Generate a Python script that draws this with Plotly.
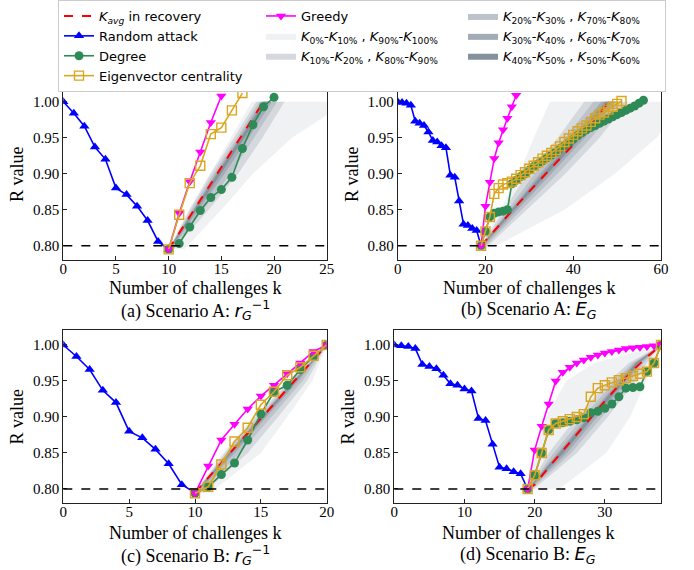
import plotly.graph_objects as go

# ---------------- data ----------------
# Random attack (removal phase)
k_rand_r = list(range(0, 11))
R_rand_r = [1.000, 0.984, 0.966, 0.937, 0.920, 0.880, 0.871, 0.855, 0.835, 0.806, 0.795]
k_rand_e = list(range(0, 20))
R_rand_e = [1.000, 0.999, 0.998, 0.995, 0.973, 0.970, 0.967, 0.958, 0.946, 0.944,
            0.939, 0.936, 0.898, 0.895, 0.862, 0.830, 0.828, 0.824, 0.821, 0.800]

# (a) Scenario A, r_G^-1
a_k_greedy = list(range(10, 16))
a_R_greedy = [0.795, 0.845, 0.889, 0.930, 0.971, 1.008]
a_k_eig = list(range(10, 18))
a_R_eig = [0.795, 0.843, 0.887, 0.911, 0.955, 0.964, 0.988, 1.012]
a_k_deg = list(range(10, 21))
a_R_deg = [0.795, 0.803, 0.826, 0.849, 0.867, 0.878, 0.895, 0.935, 0.968, 0.993, 1.006]
a_k_avg = list(range(10, 20))
a_R_avg = [0.795, 0.818, 0.840, 0.863, 0.886, 0.909, 0.932, 0.954, 0.977, 1.000]
a_levels = [0.795, 0.85, 0.90, 0.95, 1.00]
a_band_left = [[10.0, 11.9, 13.9, 15.9, 17.9],
               [10.0, 12.0, 14.0, 16.2, 18.3],
               [10.0, 12.15, 14.25, 16.5, 18.6],
               [10.0, 12.3, 14.45, 16.7, 18.85],
               [10.0, 12.4, 14.6, 16.85, 19.05]]
a_band_right = [[11.5, 15.0, 18.0, 21.7, 27.0],
                [10.5, 13.8, 16.6, 18.9, 21.0],
                [10.3, 13.3, 15.9, 18.1, 20.3],
                [10.2, 12.9, 15.3, 17.6, 19.8],
                [10.1, 12.65, 14.95, 17.2, 19.4]]

# (b) Scenario A, E_G
b_k_greedy = list(range(19, 28))
b_R_greedy = [0.800, 0.855, 0.888, 0.921, 0.943, 0.961, 0.977, 0.993, 1.009]
b_k_eig = list(range(19, 52))
b_R_eig = [0.800, 0.820, 0.840, 0.872, 0.880, 0.885, 0.887, 0.889, 0.893, 0.898,
           0.902, 0.907, 0.911, 0.916, 0.921, 0.925, 0.929, 0.933, 0.938, 0.944,
           0.949, 0.954, 0.959, 0.963, 0.967, 0.972, 0.977, 0.982, 0.985, 0.989,
           0.993, 0.997, 1.001]
b_k_deg = list(range(19, 57))
b_R_deg = [0.800, 0.820, 0.840, 0.845, 0.847, 0.848, 0.850, 0.886, 0.891, 0.896,
           0.900, 0.905, 0.910, 0.914, 0.918, 0.922, 0.926, 0.930, 0.935, 0.939,
           0.943, 0.948, 0.953, 0.957, 0.961, 0.964, 0.967, 0.970, 0.973, 0.976,
           0.979, 0.982, 0.985, 0.988, 0.991, 0.994, 0.998, 1.002]
b_k_avg = [19, 22, 25, 28, 31, 34, 37, 40, 43, 46, 48]
b_R_avg = [0.800, 0.821, 0.841, 0.862, 0.882, 0.902, 0.921, 0.940, 0.961, 0.984, 1.000]
b_levels = [0.80, 0.85, 0.90, 0.95, 1.00]
b_band_left = [[19, 23.3, 27.7, 31.0, 34.7],
               [19, 24.3, 29.5, 36.5, 42.5],
               [19, 25.0, 31.2, 38.2, 44.6],
               [19, 25.6, 32.4, 39.6, 46.4],
               [19, 25.9, 33.1, 40.4, 47.3]]
b_band_right = [[22.5, 38.0, 49.5, 59.0, 66.0],
                [20.6, 29.5, 38.2, 46.0, 52.5],
                [20.1, 28.3, 36.4, 44.1, 50.8],
                [19.6, 27.3, 35.0, 42.6, 49.6],
                [19.3, 26.6, 34.1, 41.7, 48.7]]

# (c) Scenario B, r_G^-1
c_k_greedy = list(range(10, 21))
c_R_greedy = [0.794, 0.832, 0.868, 0.890, 0.911, 0.929, 0.944, 0.960, 0.975, 0.991, 1.000]
c_k_eig = list(range(10, 21))
c_R_eig = [0.794, 0.803, 0.834, 0.866, 0.885, 0.917, 0.935, 0.958, 0.969, 0.985, 1.000]
c_k_deg = list(range(10, 21))
c_R_deg = [0.794, 0.803, 0.820, 0.836, 0.868, 0.904, 0.935, 0.944, 0.966, 0.984, 1.000]
c_k_avg = list(range(10, 21))
c_R_avg = [0.795, 0.815, 0.836, 0.857, 0.877, 0.898, 0.918, 0.939, 0.959, 0.980, 1.000]
c_levels = [0.795, 0.85, 0.90, 0.95, 1.00]
c_band_left = [[10, 12.1, 14.4, 17.0, 20],
               [10, 12.25, 14.6, 17.2, 20],
               [10, 12.4, 14.8, 17.35, 20],
               [10, 12.5, 14.95, 17.45, 20],
               [10, 12.6, 15.0, 17.5, 20]]
c_band_right = [[11.2, 15.0, 17.0, 18.9, 20],
                [10.7, 14.0, 16.3, 18.5, 20],
                [10.4, 13.4, 15.8, 18.15, 20],
                [10.2, 13.0, 15.45, 17.85, 20],
                [10.1, 12.8, 15.25, 17.7, 20]]

# (d) Scenario B, E_G
d_k_greedy = list(range(19, 39))
d_R_greedy = [0.800, 0.854, 0.887, 0.918, 0.950, 0.962, 0.969, 0.975, 0.979, 0.983,
              0.986, 0.989, 0.991, 0.993, 0.995, 0.996, 0.997, 0.998, 0.999, 1.001]
d_k_eig = list(range(19, 39))
d_R_eig = [0.800, 0.819, 0.850, 0.882, 0.891, 0.894, 0.897, 0.900, 0.904, 0.928,
           0.940, 0.944, 0.948, 0.951, 0.954, 0.957, 0.960, 0.963, 0.975, 1.000]
d_k_deg = list(range(19, 39))
d_R_deg = [0.800, 0.819, 0.850, 0.882, 0.891, 0.892, 0.894, 0.896, 0.899, 0.906,
           0.908, 0.912, 0.918, 0.928, 0.940, 0.941, 0.942, 0.963, 0.975, 1.000]
d_k_avg = [19, 20, 22, 24, 26, 28, 30, 32, 34, 36, 38]
d_R_avg = [0.800, 0.806, 0.830, 0.853, 0.877, 0.899, 0.922, 0.944, 0.965, 0.983, 1.000]
d_levels = [0.80, 0.85, 0.90, 0.95, 0.975, 1.00]
d_band_left = [[19, 20.2, 21.6, 24.5, 28.5, 38],
               [19, 22.0, 26.0, 30.6, 33.4, 38],
               [19, 22.7, 26.9, 31.4, 33.9, 38],
               [19, 23.2, 27.5, 32.0, 34.2, 38],
               [19, 23.5, 27.8, 32.3, 34.4, 38]]
d_band_right = [[23.5, 30.2, 33.6, 35.9, 37.0, 38],
                [19.9, 26.0, 30.4, 34.4, 36.0, 38],
                [19.6, 25.2, 29.6, 33.7, 35.5, 38],
                [19.35, 24.6, 28.9, 33.2, 35.1, 38],
                [19.15, 24.1, 28.4, 32.9, 34.85, 38]]

band_names = [
    "<i>K</i><sub>0%</sub>-<i>K</i><sub>10%</sub> , <i>K</i><sub>90%</sub>-<i>K</i><sub>100%</sub>",
    "<i>K</i><sub>10%</sub>-<i>K</i><sub>20%</sub> , <i>K</i><sub>80%</sub>-<i>K</i><sub>90%</sub>",
    "<i>K</i><sub>20%</sub>-<i>K</i><sub>30%</sub> , <i>K</i><sub>70%</sub>-<i>K</i><sub>80%</sub>",
    "<i>K</i><sub>30%</sub>-<i>K</i><sub>40%</sub> , <i>K</i><sub>60%</sub>-<i>K</i><sub>70%</sub>",
    "<i>K</i><sub>40%</sub>-<i>K</i><sub>50%</sub> , <i>K</i><sub>50%</sub>-<i>K</i><sub>60%</sub>",
]
band_colors = ["#eff1f3", "#d5d9de", "#bdc3ca", "#a3abb4", "#86919e"]
band_ranks = [5, 8, 3, 6, 9]

captions = [
    "(a) Scenario A: <span style='font-family:DejaVu Sans'><i>r</i><sub><i>G</i></sub><sup>−1</sup></span>",
    "(b) Scenario A: <span style='font-family:DejaVu Sans'><i>E</i><sub><i>G</i></sub></span>",
    "(c) Scenario B: <span style='font-family:DejaVu Sans'><i>r</i><sub><i>G</i></sub><sup>−1</sup></span>",
    "(d) Scenario B: <span style='font-family:DejaVu Sans'><i>E</i><sub><i>G</i></sub></span>",
]
x_title = "Number of challenges k"
y_title = "R value"

W, H = 694, 570
panels = [
    dict(rand=(k_rand_r, R_rand_r), greedy=(a_k_greedy, a_R_greedy), eig=(a_k_eig, a_R_eig),
         deg=(a_k_deg, a_R_deg), avg=(a_k_avg, a_R_avg), levels=a_levels,
         left=a_band_left, right=a_band_right, xr=[0, 25], xt=[0, 5, 10, 15, 20, 25],
         px=(63.3, 326.7), py=(88.3, 260.0), yr=[0.7802, 1.0186]),
    dict(rand=(k_rand_e, R_rand_e), greedy=(b_k_greedy, b_R_greedy), eig=(b_k_eig, b_R_eig),
         deg=(b_k_deg, b_R_deg), avg=(b_k_avg, b_R_avg), levels=b_levels,
         left=b_band_left, right=b_band_right, xr=[0, 60], xt=[0, 20, 40, 60],
         px=(397.7, 661.0), py=(88.3, 260.0), yr=[0.7802, 1.0186]),
    dict(rand=(k_rand_r, R_rand_r), greedy=(c_k_greedy, c_R_greedy), eig=(c_k_eig, c_R_eig),
         deg=(c_k_deg, c_R_deg), avg=(c_k_avg, c_R_avg), levels=c_levels,
         left=c_band_left, right=c_band_right, xr=[0, 20], xt=[0, 5, 10, 15, 20],
         px=(63.3, 326.7), py=(330.0, 503.3), yr=[0.7801, 1.0208]),
    dict(rand=(k_rand_e, R_rand_e), greedy=(d_k_greedy, d_R_greedy), eig=(d_k_eig, d_R_eig),
         deg=(d_k_deg, d_R_deg), avg=(d_k_avg, d_R_avg), levels=d_levels,
         left=d_band_left, right=d_band_right, xr=[0, 38], xt=[0, 10, 20, 30],
         px=(394.3, 661.0), py=(330.0, 503.3), yr=[0.7801, 1.0208]),
]

SERIF = "Liberation Serif"
fig = go.Figure()
layout = {}
shapes = []
annotations = []

for i, p in enumerate(panels):
    n = "" if i == 0 else str(i + 1)
    xa, ya = "x" + n, "y" + n
    first = i == 0
    # percentile bands
    for b in range(5):
        lv = p["levels"]
        fig.add_trace(go.Scatter(
            x=p["left"][b] + p["right"][b][::-1], y=lv + lv[::-1],
            fill="toself", fillcolor=band_colors[b], mode="lines", line=dict(width=0),
            name=band_names[b], legendrank=band_ranks[b], showlegend=first,
            xaxis=xa, yaxis=ya, hoverinfo="skip"))
    # K_avg
    fig.add_trace(go.Scatter(x=p["avg"][0], y=p["avg"][1], mode="lines",
                             line=dict(color="#ff0000", width=2, dash="dash"),
                             name="<i>K</i><sub><i>avg</i></sub> in recovery", legendrank=1,
                             showlegend=first, xaxis=xa, yaxis=ya))
    fig.add_trace(go.Scatter(x=p["rand"][0], y=p["rand"][1], mode="lines+markers",
                             line=dict(color="#0000ff", width=1.6),
                             marker=dict(symbol="triangle-up", size=9, color="#0000ff"),
                             name="Random attack", legendrank=4, showlegend=first,
                             xaxis=xa, yaxis=ya))
    fig.add_trace(go.Scatter(x=p["deg"][0], y=p["deg"][1], mode="lines+markers",
                             line=dict(color="#2e8b57", width=1.6),
                             marker=dict(symbol="circle", size=9, color="#2e8b57"),
                             name="Degree", legendrank=7, showlegend=first,
                             xaxis=xa, yaxis=ya))
    fig.add_trace(go.Scatter(x=p["greedy"][0], y=p["greedy"][1], mode="lines+markers",
                             line=dict(color="#ff00ff", width=1.6),
                             marker=dict(symbol="triangle-down", size=9, color="#ff00ff"),
                             name="Greedy", legendrank=2, showlegend=first,
                             xaxis=xa, yaxis=ya))
    fig.add_trace(go.Scatter(x=p["eig"][0], y=p["eig"][1], mode="lines+markers",
                             line=dict(color="#daa520", width=1.6),
                             marker=dict(symbol="square-open", size=9, color="#daa520",
                                         line=dict(width=1.4, color="#daa520")),
                             name="Eigenvector centrality", legendrank=10, showlegend=first,
                             xaxis=xa, yaxis=ya))
    x0, x1 = p["px"]
    t0, t1 = p["py"]
    layout["xaxis" + n] = dict(
        domain=[x0 / W, x1 / W], range=p["xr"], anchor=ya, tickvals=p["xt"],
        ticks="inside", ticklen=4, tickwidth=1, tickcolor="#222",
        showline=True, mirror=True, linecolor="#222", linewidth=1,
        showgrid=False, zeroline=False, automargin=False, ticklabelstandoff=-5,
        tickfont=dict(family=SERIF, size=15, color="black"))
    layout["yaxis" + n] = dict(
        domain=[1 - t1 / H, 1 - t0 / H], range=p["yr"], anchor=xa,
        tickvals=[0.80, 0.85, 0.90, 0.95, 1.00], tickformat=".2f",
        ticks="inside", ticklen=4, tickwidth=1, tickcolor="#222",
        showline=True, mirror=True, linecolor="#222", linewidth=1,
        showgrid=False, zeroline=False, automargin=False,
        tickfont=dict(family=SERIF, size=15, color="black"),
        title=dict(text=y_title, standoff=4,
                   font=dict(family=SERIF, size=18, color="black")))
    shapes.append(dict(type="line", xref=xa + " domain", yref=ya, x0=0, x1=1, y0=0.8, y1=0.8,
                       line=dict(color="black", width=1.5, dash="dash"), layer="above"))
    title_y = 288 if i < 2 else 533
    cap_y = 310 if i < 2 else 555
    annotations.append(dict(text=x_title, xref="paper", yref="paper",
                            x=(x0 + x1) / 2 / W, y=1 - title_y / H, xanchor="center",
                            yanchor="middle", showarrow=False,
                            font=dict(family=SERIF, size=18, color="black")))
    annotations.append(dict(text=captions[i], xref="paper", yref="paper",
                            x=(x0 + x1) / 2 / W, y=1 - cap_y / H, xanchor="center",
                            yanchor="middle", showarrow=False,
                            font=dict(family=SERIF, size=18, color="black")))

fig.update_layout(
    width=W, height=H, margin=dict(l=0, r=0, t=0, b=0),
    paper_bgcolor="white", plot_bgcolor="white",
    shapes=shapes, annotations=annotations,
    legend=dict(orientation="h", x=58 / W, y=1.0, xanchor="left", yanchor="top",
                bordercolor="#cccccc", borderwidth=1, bgcolor="white",
                entrywidth=157, entrywidthmode="pixels", tracegroupgap=0,
                font=dict(family="DejaVu Sans", size=13, color="black")),
    **layout)

fig.write_html("out.html", config={"displayModeBar": False},
               post_script="document.body.style.margin='0px';")
